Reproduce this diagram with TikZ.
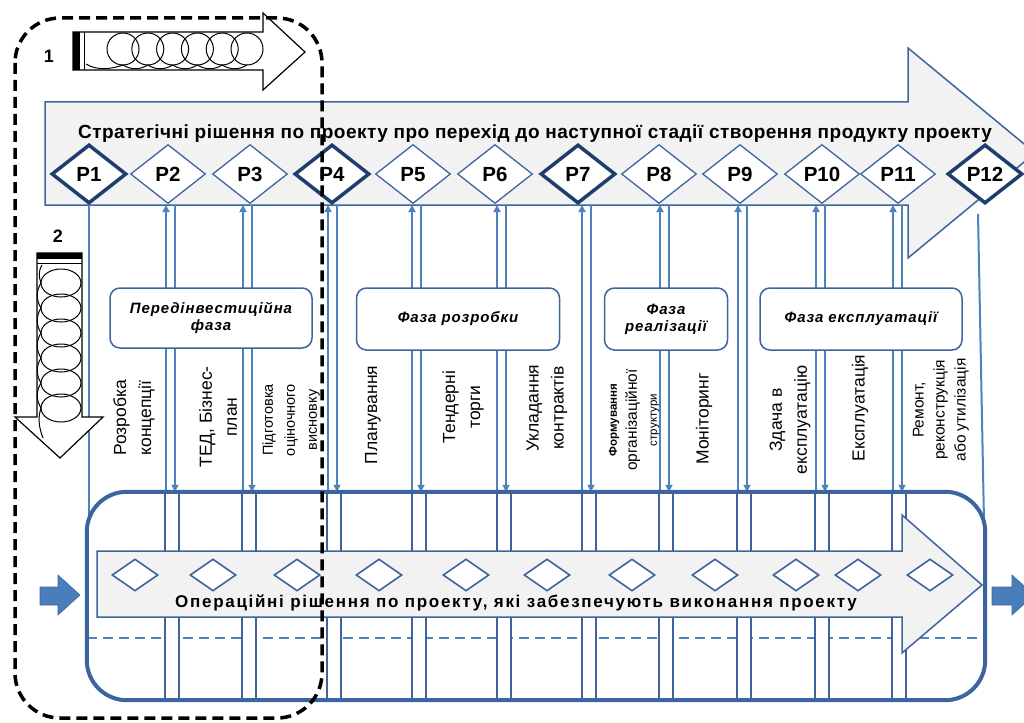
\documentclass[tikz,border=0pt]{standalone}
\usepackage{fontspec}
\setmainfont{Liberation Sans}
\usepackage{xcolor}
\usetikzlibrary{arrows.meta,shapes.geometric,calc}
\definecolor{pjBlue}  {RGB}{ 79,129,189}
\definecolor{pjEdge}  {RGB}{ 62,100,158}
\definecolor{pjNavy}  {RGB}{ 31, 62,112}
\definecolor{pjGrey}  {RGB}{242,242,242}
\definecolor{pjArrow} {RGB}{ 74,126,187}

\begin{document}
\begin{tikzpicture}[
  x=1pt,y=-1pt,
  pbig/.style={diamond,draw=pjNavy,line width=3.5pt,fill=white,
               minimum width=75pt,minimum height=59pt,inner sep=0pt,
               text height=14.5pt,text depth=0pt,
               font=\fontsize{20.5}{20}\selectfont\bfseries},
  psmall/.style={pbig,draw=pjEdge,line width=1.3pt},
  opsdia/.style={diamond,draw=pjEdge,line width=1.6pt,fill=white,
                 minimum width=46pt,minimum height=32pt,inner sep=0pt},
  phase/.style={rectangle,rounded corners=10pt,draw=pjEdge,line width=1.5pt,
                fill=white,align=center,inner sep=0pt,
                font=\fontsize{15}{17}\selectfont\bfseries\itshape\addfontfeature{LetterSpace=6}},
  vtext/.style={rotate=90,align=center,inner sep=0pt,
                font=\fontsize{17.5}{25}\selectfont},
  upline/.style={draw=pjBlue,line width=2pt,-{Triangle[length=7pt,width=7pt]}},
  downline/.style={upline},
  plainline/.style={draw=pjBlue,line width=2pt},
  strip/.style={draw=pjEdge,line width=1.6pt,fill=white},
  bluearr/.style={fill=pjArrow,draw=pjEdge,line width=0.6pt},
  blockarr/.style={draw=black,line width=1.2pt,fill=white},
  coilline/.style={draw=black,line width=1pt},
  selframe/.style={draw=black,line width=3.5pt,dash pattern=on 11pt off 6pt,
                   rounded corners=45pt}
]
\useasboundingbox (0,0) rectangle (1024,722);

% --- Strategic decisions: big arrow with P1..P12
\path[draw=pjEdge,line width=1.5pt,fill=pjGrey]
  (45,102) -- (908,102) -- (908,48) -- (1035,153) -- (908,258)
  -- (908,205) -- (45,205) -- cycle;
\node[font=\fontsize{19}{20}\selectfont\bfseries\addfontfeature{LetterSpace=2.5}]
  (strat) at (535,134)
  {Стратегічні рішення по проекту про перехід до наступної стадії створення продукту проекту};

% operational block (outline drawn at the end)
\node[minimum width=898pt,minimum height=208pt,inner sep=0pt] (ops) at (536,596) {};

% diamond positions (drawn after the lines)
\foreach \n/\px in {1/89,2/168,3/250,4/332,5/413,6/495,7/578,8/659,
                    9/740,10/822,11/898,12/985}
  \coordinate (c\n) at (\px,174);

% --- links between decisions and operations
\foreach \n/\du in {2/-2,3/-7,4/-4,5/-1,6/2,7/4,8/1,9/-2,10/-6,11/-5} {
  \draw[upline] ([xshift=\du pt,yshift=-31pt]c\n |- ops.north) -- ([xshift=\du pt,yshift=-31pt]c\n);
  \draw[downline] ([xshift=\du pt+9pt,yshift=-31pt]c\n) -- ([xshift=\du pt+9pt]c\n |- ops.north);
}
\draw[plainline] ([yshift=-31pt]c1) -- ([yshift=-24pt]c1 |- ops.north);
\draw[plainline] ([xshift=-7pt,yshift=-40pt]c12) -- ([xshift=-1pt,yshift=-30pt]c12 |- ops.north);

\foreach \n/\st in {1/pbig,2/psmall,3/psmall,4/pbig,5/psmall,6/psmall,
                    7/pbig,8/psmall,9/psmall,10/psmall,11/psmall,12/pbig}
  \node[\st] (p\n) at (c\n) {P\n};

% --- phases
\node[phase,minimum width=202pt,minimum height=60pt] (prephase) at (211,318)
  {Передінвестиційна\\фаза};
\node[phase,minimum width=203pt,minimum height=62pt] (devphase) at (458,319)
  {Фаза розробки};
\node[phase,minimum width=123pt,minimum height=62pt] (implphase) at (666,319)
  {Фаза\\реалізації};
\node[phase,minimum width=202pt,minimum height=62pt] (expphase) at (861,319)
  {Фаза експлуатації};

% --- stages (rotated)
\node[vtext] (s1) at (134,418) {Розробка\\концепції};
\node[vtext] (s2) at (218,417) {ТЕД, Бізнес-\\план};
\node[vtext,font=\fontsize{14.5}{22}\selectfont] (s3) at (291,420)
  {Підготовка\\оціночного\\висновку};
\node[vtext] (s4) at (373,415) {Планування};
\node[vtext] (s5) at (463,407) {Тендерні\\торги};
\node[vtext] (s6) at (547,408) {Укладання\\контрактів};
\node[vtext,font=\fontsize{15.5}{20}\selectfont] (s7) at (634,420)
  {{\fontsize{11.5}{12}\selectfont\bfseries Формування}\\організаційної\\{\fontsize{11.5}{13}\selectfont структури}};
\node[vtext] (s8) at (704,419) {Моніторинг};
\node[vtext] (s9) at (790,420) {Здача в\\експлуатацію};
\node[vtext] (s10) at (860,408) {Експлуатація};
\node[vtext,font=\fontsize{15.5}{21}\selectfont] (s11) at (941,410)
  {Ремонт,\\реконструкція\\або утилізація};

% --- Operational decisions
\draw[pjBlue,line width=2pt,dash pattern=on 10pt off 6pt]
  (ops.west |- 0,638) -- (ops.east |- 0,638);
\foreach \sx in {165,242,327,412,497,582,659,737,815,892}
  \draw[strip] (\sx,492) rectangle ++(14,208);
\path[draw=pjEdge,line width=1.5pt,fill=pjGrey]
  (97,551) -- (902,551) -- (902,515) -- (982,585) -- (902,653)
  -- (902,617) -- (97,617) -- cycle;
\foreach \ox [count=\i] in {135,213,297,379,466,547,632,715,796,858,930}
  \node[opsdia] (o\i) at (\ox,575) {};
\node[font=\fontsize{17}{18}\selectfont\bfseries\addfontfeature{LetterSpace=10}]
  (opstxt) at (516,603)
  {Операційні рішення по проекту, які забезпечують виконання проекту};
\draw[pjEdge,line width=4pt,rounded corners=40pt]
  (ops.north west) rectangle (ops.south east);

% in / out arrows
\path[bluearr] (40,587) -- (58,587) -- (58,575) -- (80,595) -- (58,615)
  -- (58,605) -- (40,605) -- cycle;
\path[bluearr] (992,587) -- (1012,587) -- (1012,575) -- (1034,595)
  -- (1012,615) -- (1012,605) -- (992,605) -- cycle;

% --- spring 1 (horizontal)
\node[font=\fontsize{18}{18}\selectfont\bfseries] (n1) at (49,56) {1};
\path[blockarr] (73,32) -- (263,32) -- (263,13) -- (305,52) -- (263,90)
  -- (263,70) -- (73,70) -- cycle;
\fill (73,32) rectangle (80,70);
\draw[line width=1pt] (84,32) -- (84,70);
\foreach \i in {0,...,5}
  \draw[coilline] (123+24.8*\i,49) circle[radius=16pt];
\draw[coilline] (86,64) .. controls (97,71) and (112,69) .. (123,65);
\foreach \i in {0,...,4}
  \draw[coilline] (123+24.8*\i,65) .. controls +(8,5) and +(-8,5) .. ++(24.8,0);

% --- spring 2 (vertical)
\node[font=\fontsize{18}{18}\selectfont\bfseries] (n2) at (58,236) {2};
\path[blockarr] (37,253) -- (82,253) -- (82,417) -- (103,417) -- (60,458)
  -- (15,417) -- (37,417) -- cycle;
\fill (37,253) rectangle (82,259);
\draw[line width=1pt] (37,263) -- (82,263);
\foreach \i in {0,...,5}
  \draw[coilline] (61,283+25*\i) ellipse[x radius=20pt,y radius=14pt];
\draw[coilline] (42,265) .. controls (38,272) and (39,277) .. (41,283);
\foreach \i in {0,...,4}
  \draw[coilline] (41,283+25*\i) .. controls +(-5,8) and +(-5,-8) .. ++(0,25);
\draw[coilline] (41,408) .. controls (37,420) and (40,430) .. (43,438);

% selection frame
\draw[selframe] (15,18) rectangle (322,718);
\end{tikzpicture}
\end{document}
